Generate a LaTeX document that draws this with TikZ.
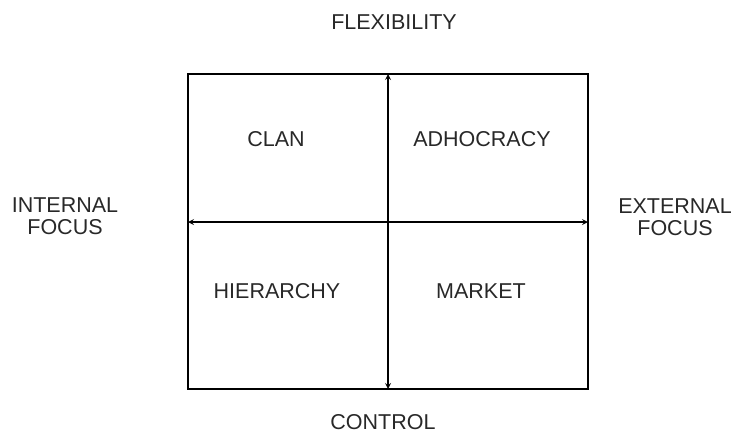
\documentclass[tikz,border=0pt]{standalone}
\usepackage{fontspec}
\setmainfont{Liberation Sans}
\usepackage{tikz}
\newcommand{\labelfont}{\fontsize{21.5}{22}\selectfont}
\definecolor{grisito}{RGB}{40,40,40}
\tikzset{>=stealth, every node/.append style={font=\labelfont, text=grisito, inner sep=0pt, align=center}}

\begin{document}
\begin{tikzpicture}[x=1pt,y=-1pt]
	\useasboundingbox (0,0) rectangle (736,437);

		\coordinate (nw) at (188,74);
		\coordinate (se) at (588,389);
		\coordinate (top) at (388,74);
		\coordinate (bottom) at (388,389);
		\coordinate (left) at (188,222);
		\coordinate (right) at (588,222);

		\draw[line width=2.4pt] (nw) rectangle (se);
		\draw[<->,line width=1.6pt] (top) -- (bottom);
		\draw[<->,line width=1.6pt] (left) -- (right);

		\node (flex) at (394,22) {FLEXIBILITY};
		\node (ctrl) at (383,422) {CONTROL};
		\node (int) at (65,216) {INTERNAL\\FOCUS};
		\node (ext) at (675,217) {EXTERNAL\\FOCUS};

		\node (clan) at (276,139) {CLAN};
		\node (adho) at (482,139) {ADHOCRACY};
		\node (hier) at (277,291) {HIERARCHY};
		\node (mkt) at (481,291) {MARKET};

	\end{tikzpicture}
\end{document}
